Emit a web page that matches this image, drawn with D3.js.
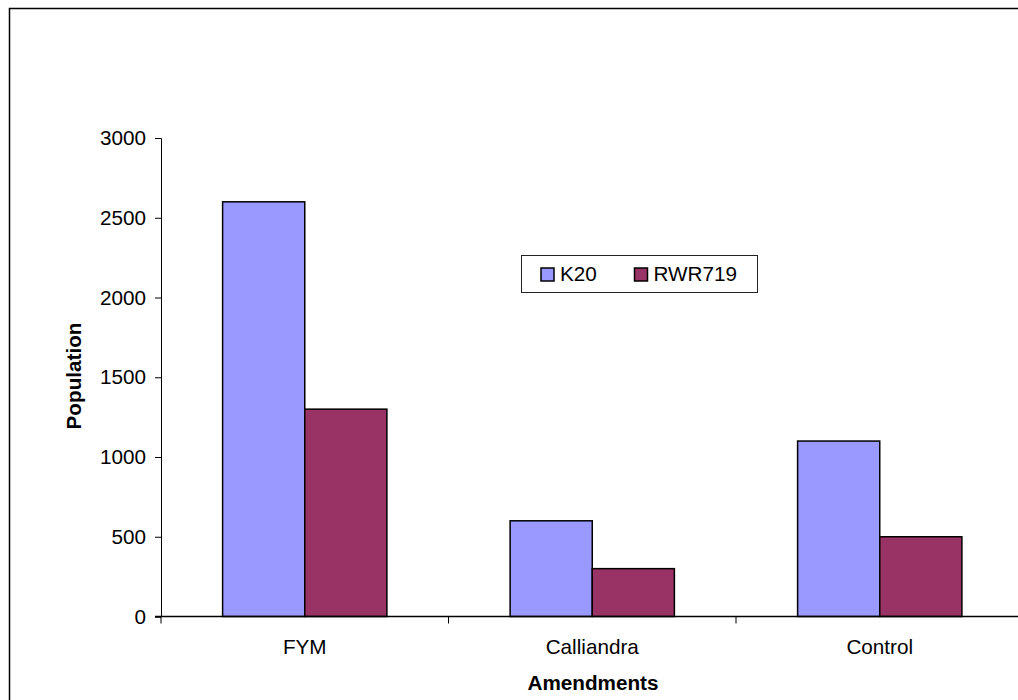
<!DOCTYPE html>
<html><head><meta charset="utf-8">
<script src="https://cdn.jsdelivr.net/npm/d3@7"></script>
<style>body{margin:0;background:#fff;}svg{display:block;font-family:"Liberation Sans",Arial,sans-serif;}</style>
</head><body>
<svg id="c" width="1018" height="700"></svg>
<script>
const categories = ["FYM", "Calliandra", "Control"];
const seriesNames = ["K20", "RWR719"];
const k20 = [2600, 600, 1100];
const rwr719 = [1300, 300, 500];
const yTicks = [0, 500, 1000, 1500, 2000, 2500, 3000];
const colors = ["#9999FF", "#993366"];

(function () {
const FS = 20.7;
const svg = d3.select("#c");
// outer chart border (extends beyond canvas on right/bottom)
svg.append("rect").attr("x", 9.5).attr("y", 8.5).attr("width", 1030).attr("height", 720)
  .attr("fill", "#fff").attr("stroke", "#000").attr("stroke-width", 1.5);

const pLeft = 161, pRight = 1023.5, pTop = 138, pBottom = 616.5;
const x = d3.scaleBand().domain(categories).range([pLeft, pRight]).paddingInner(0).paddingOuter(0);
const y = d3.scaleLinear().domain([0, 3000]).range([pBottom, pTop]);
const gap = 1.5; // gap width 150%
const barW = x.bandwidth() / (2 + gap);

const data = [k20, rwr719];
data.forEach((vals, si) => {
  svg.append("g").selectAll("rect").data(vals).join("rect")
    .attr("x", (d, i) => x(categories[i]) + barW * gap / 2 + si * barW)
    .attr("y", d => y(d))
    .attr("width", barW)
    .attr("height", d => pBottom - y(d))
    .attr("fill", colors[si]).attr("stroke", "#000").attr("stroke-width", 1.5);
});

// y axis
const ya = svg.append("g").attr("transform", `translate(${pLeft},0)`)
  .call(d3.axisLeft(y).tickValues(yTicks).tickSize(6).tickPadding(9).tickFormat(d3.format("d")));
ya.attr("font-size", FS).attr("font-family", "Liberation Sans, Arial, sans-serif");
ya.select(".domain").attr("stroke", "#000").attr("stroke-width", 1);
ya.selectAll("text").attr("fill", "#000");

// x axis
const xa = svg.append("g").attr("transform", `translate(0,${pBottom})`)
  .call(d3.axisBottom(x).tickSize(0));
xa.attr("font-size", FS).attr("font-family", "Liberation Sans, Arial, sans-serif");
xa.select(".domain").remove();
xa.selectAll("text").attr("fill", "#000").attr("dy", null).attr("y", 654 - pBottom);
svg.append("line").attr("x1", pLeft - 6).attr("x2", 1018).attr("y1", pBottom).attr("y2", pBottom)
  .attr("stroke", "#000").attr("stroke-width", 1.5);
// category boundary ticks
const bounds = [pLeft].concat(categories.map(c => x(c) + x.bandwidth()));
svg.append("g").selectAll("line").data(bounds).join("line")
  .attr("x1", d => d).attr("x2", d => d).attr("y1", pBottom).attr("y2", pBottom + 7)
  .attr("stroke", "#000").attr("stroke-width", 1);

// axis titles
svg.append("text").attr("x", 593).attr("y", 690).attr("text-anchor", "middle")
  .attr("font-size", FS).attr("font-weight", "bold").text("Amendments");
svg.append("text").attr("transform", "translate(81,376) rotate(-90)").attr("text-anchor", "middle")
  .attr("font-size", FS).attr("font-weight", "bold").text("Population");

// legend
const lg = svg.append("g");
lg.append("rect").attr("x", 521.5).attr("y", 255.5).attr("width", 236).attr("height", 37)
  .attr("fill", "#fff").attr("stroke", "#222").attr("stroke-width", 1);
const lx = [541, 634.5];
seriesNames.forEach((n, i) => {
  lg.append("rect").attr("x", lx[i]).attr("y", 268).attr("width", 13).attr("height", 13)
    .attr("fill", colors[i]).attr("stroke", "#000").attr("stroke-width", 1.5);
  lg.append("text").attr("x", lx[i] + 19).attr("y", 281).attr("font-size", FS).text(n);
});
})();
</script>
</body></html>
